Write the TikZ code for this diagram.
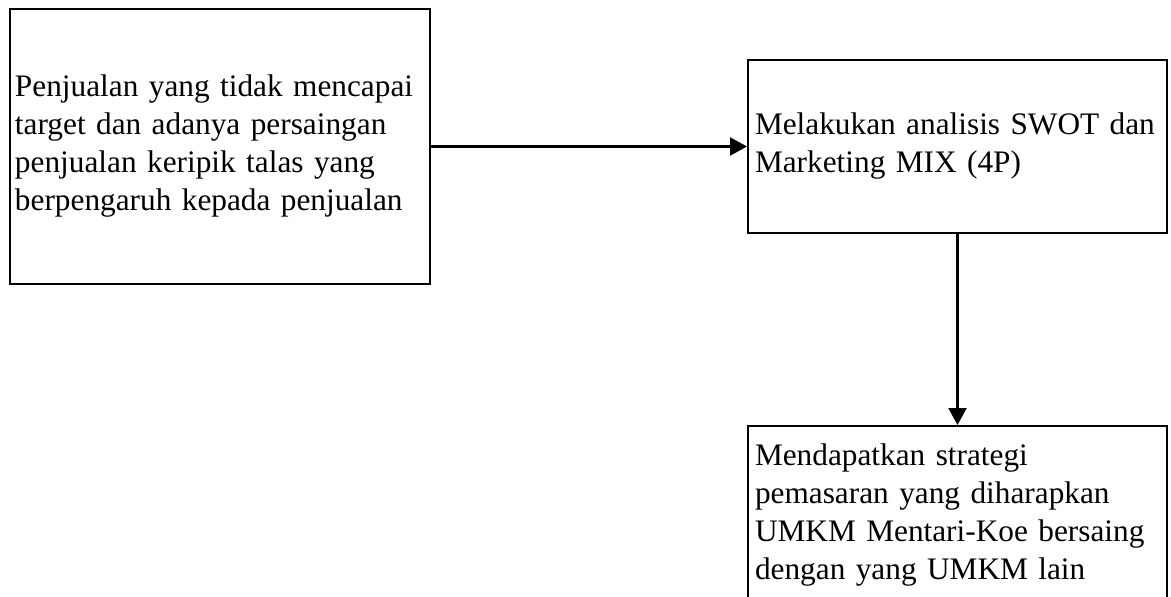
\documentclass[tikz,border=0pt]{standalone}
\usepackage{fontspec}
\setmainfont{Liberation Serif}
\usetikzlibrary{positioning,arrows.meta}

\begin{document}
\begin{tikzpicture}[x=1pt,y=-1pt,
    box/.style={draw,line width=2pt,align=left,font=\fontsize{31.3}{38}\selectfont},
    arrow/.style={line width=2.2pt,-{Triangle[length=17pt,width=18pt]}}]
      \useasboundingbox (0,0) rectangle (1171,597);

      \node[box,text width=410pt,inner xsep=5pt,minimum height=275pt] (masalah) at (220,146.5)
        {Penjualan yang tidak mencapai\\target dan adanya persaingan\\penjualan keripik talas yang\\berpengaruh kepada penjualan};
      \node[box,text width=405pt,inner xsep=7pt,minimum height=173pt] (analisis) at (957.5,146.5)
        {Melakukan analisis SWOT dan\\Marketing MIX (4P)};
      \node[box,text width=405pt,inner xsep=7pt,inner ysep=18pt,text depth=130pt,anchor=north] (strategi) at (957.5,425)
        {Mendapatkan strategi\\pemasaran yang diharapkan\\UMKM Mentari-Koe bersaing\\dengan yang UMKM lain};

      \draw[arrow] (masalah) -- (analisis);
      \draw[arrow] (analisis) -- (strategi);
    \end{tikzpicture}
\end{document}
